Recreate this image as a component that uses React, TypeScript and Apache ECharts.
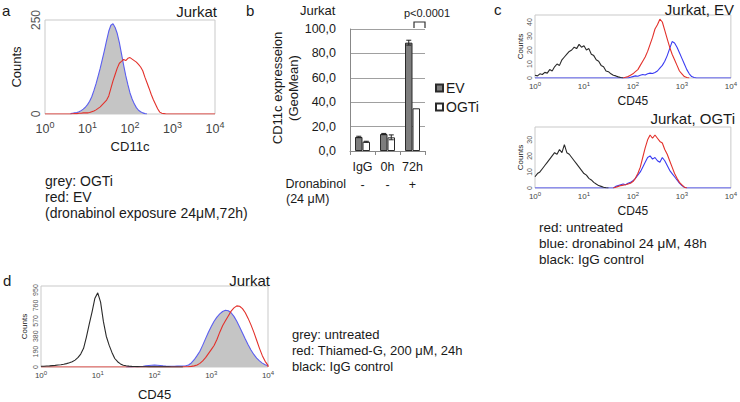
import React, { useEffect, useRef } from "react";
import * as echarts from "echarts";

const FONT = '"Liberation Sans", Arial, Helvetica, sans-serif';

// Histogram bin centres: 10^0 .. 10^4 in log10 steps of 0.05
const BINS = [
  1, 1.122, 1.259, 1.413, 1.585, 1.778, 1.995, 2.239, 2.512, 2.818, 3.162, 3.548, 3.981, 4.467, 5.012, 5.623, 6.31, 7.079, 7.943, 8.913,
  10, 11.22, 12.59, 14.13, 15.85, 17.78, 19.95, 22.39, 25.12, 28.18, 31.62, 35.48, 39.81, 44.67, 50.12, 56.23, 63.1, 70.79, 79.43, 89.13,
  100, 112.2, 125.9, 141.3, 158.5, 177.8, 199.5, 223.9, 251.2, 281.8, 316.2, 354.8, 398.1, 446.7, 501.2, 562.3, 631, 707.9, 794.3, 891.3,
  1000, 1122, 1259, 1413, 1585, 1778, 1995, 2239, 2512, 2818, 3162, 3548, 3981, 4467, 5012, 5623, 6310, 7079, 7943, 8913,
  10000,
];

// ---- Panel a (CD11c, counts) ----
const A_OGTI_START = 12; // 10^0.6
const A_OGTI = [1, 2, 3, 4, 6, 9, 13, 18, 25, 34, 46, 62, 80, 101, 122, 146, 170, 196, 220, 236, 240, 230, 214, 190, 160, 130, 102, 78, 56, 40, 27, 17, 10, 6, 3, 1, 0];
const A_EV_START = 12;
const A_EV = [0, 0.5, 1, 1, 2, 2, 3, 3, 3, 4, 6, 8, 11, 15, 19, 25, 31, 37, 48, 68, 88, 105, 122, 135, 140, 145, 142, 148, 150, 146, 142, 138, 132, 125, 115, 98, 83, 68, 52, 38, 26, 14, 5, 2, 1, 0];

// ---- Panel b (CD11c GeoMean) ----
const B_CATS = ["IgG", "0h", "72h"];
const B_DRONABINOL = ["-", "-", "+"];
const B_EV = [11.5, 13.9, 88.8];
const B_EV_ERR = [0.6, 0.5, 2];
const B_OGTI = [7.6, 11.2, 35];
const B_OGTI_ERR = [0.4, 2, 0];

// ---- Panel c top (Jurkat, EV) ----
const C1_BLACK_START = 0;
const C1_BLACK = [2, 1.5, 3, 2.5, 4, 3.5, 6, 5, 8, 10, 9, 13, 15, 17, 19, 20, 22, 21, 24, 22, 23, 20, 21, 17, 16, 13, 12, 9, 8, 5, 4.5, 3, 2, 1.5, 0.8, 0.3, 0];
const C1_RED_START = 36;
const C1_RED = [0, 0.5, 1, 2, 3, 4.5, 6, 9, 12, 15, 19, 24, 29, 35, 38, 42, 40, 34, 28, 22, 17, 13, 9, 5, 3, 1, 0.3, 0];
const C1_BLUE_START = 38;
const C1_BLUE = [0, 0.5, 1, 1.5, 1.2, 2, 2.5, 2.2, 3, 3.5, 3.2, 4, 5, 7, 9, 12, 16, 21, 26, 25, 22, 18, 14, 10, 6, 3, 1, 0.3, 0];

// ---- Panel c bottom (Jurkat, OGTi) ----
const C2_BLACK_START = 0;
const C2_BLACK = [7, 9, 10, 12, 14, 16, 18, 20, 22, 21, 24, 22, 27, 22, 21, 19, 17, 15, 13, 11, 9, 8, 6, 5, 3.5, 2.5, 1.5, 1, 0.5, 0.2, 0];
const C2_RED_START = 32;
const C2_RED = [0, 0.5, 1, 1.5, 1.8, 2, 2.5, 3, 4, 6, 9, 13, 19, 25, 30, 33, 31, 33, 31, 29, 28, 24, 21, 17, 13, 9, 6, 3.5, 2, 0.5, 0];
const C2_BLUE_START = 32;
const C2_BLUE = [0, 1, 1.5, 2, 2.5, 2, 3, 3.5, 4.5, 6, 8, 10, 13, 16, 19, 20, 18, 19, 17, 16, 19, 17, 14, 11, 9, 7, 5, 3, 1.5, 0.5, 0];

// ---- Panel d (CD45, Thiamed-G) ----
const D_BLACK_START = 0;
const D_BLACK = [10, 10, 12, 14, 17, 20, 24, 28, 34, 42, 52, 65, 85, 115, 160, 230, 370, 530, 680, 850, 915, 800, 560, 380, 270, 180, 105, 65, 38, 22, 15, 11, 8, 6, 5, 4, 3, 3, 2, 2, 2, 2, 1, 1, 1, 1, 0.5, 0.5, 0, 0, 0];
const D_GREY_START = 30;
const D_GREY = [0, 1, 2, 3, 5, 7, 10, 14, 18, 22, 24, 22, 18, 14, 11, 10, 10, 10, 11, 12, 12, 16, 25, 50, 90, 140, 195, 270, 350, 430, 500, 565, 615, 655, 685, 700, 695, 670, 625, 565, 495, 420, 345, 275, 210, 155, 110, 75, 48, 28, 15];
const D_RED_START = 50;
const D_RED = [2, 3, 5, 8, 14, 25, 45, 75, 115, 165, 215, 265, 340, 430, 510, 570, 630, 690, 730, 755, 750, 720, 670, 600, 520, 430, 330, 230, 140, 70, 20];

const hist = (start: number, ys: number[]) => ys.map((y, i) => [BINS[start + i], y]);
const withBase = (pts: number[][]) => [[BINS[0], 0], ...pts, [BINS[BINS.length - 1], 0]];

const RED = "#e3312b";
const BLUE = "#5a5ef0";
const BLUE_C = "#3b3cf2";
const BLACK = "#2a2a2a";
const GREY_FILL = "#c5c5c5";
const FRAME = "#c9c9c9";
const TXT = "#1a1a1a";

function logXAxis(gridIndex: number, fs: number, sup: number, name: string, nameFs: number, nameGap: number, margin: number) {
  return {
    type: "log",
    logBase: 10,
    gridIndex,
    min: 1,
    max: 10000,
    axisLine: { show: false },
    axisTick: { show: false },
    splitLine: { show: false },
    minorTick: { show: false },
    axisLabel: {
      margin,
      color: "#444",
      fontFamily: FONT,
      fontSize: fs,
      formatter: (v: number) => "10{s|" + Math.round(Math.log10(v)) + "}",
      rich: { s: { fontSize: sup, fontFamily: FONT, color: "#444", padding: [0, 0, Math.round(fs * 0.6), 0] } },
    },
    name,
    nameLocation: "middle",
    nameGap,
    nameTextStyle: { fontSize: nameFs, fontFamily: FONT, color: TXT },
  };
}

function countYAxis(gridIndex: number, max: number, interval: number, fs: number, nameFs: number, nameGap: number, margin: number) {
  return {
    type: "value",
    gridIndex,
    min: 0,
    max,
    interval,
    axisLine: { show: false },
    axisTick: { show: false },
    splitLine: { show: false },
    axisLabel: { rotate: 90, fontSize: fs, fontFamily: FONT, color: "#555", margin, showMaxLabel: max % interval === 0 },
    name: "Counts",
    nameLocation: "middle",
    nameGap,
    nameTextStyle: { fontSize: nameFs, fontFamily: FONT, color: TXT },
  };
}

function line(xi: number, yi: number, data: number[][], color: string, z = 3, extra: any = {}) {
  return {
    type: "line",
    xAxisIndex: xi,
    yAxisIndex: yi,
    data,
    showSymbol: false,
    symbol: "none",
    silent: true,
    z,
    lineStyle: { color, width: 1.1 },
    itemStyle: { color },
    ...extra,
  };
}

function errorSeries(vals: number[], errs: number[], offset: number) {
  return {
    type: "custom",
    xAxisIndex: 1,
    yAxisIndex: 1,
    z: 6,
    silent: true,
    encode: { x: 0, y: 1 },
    data: vals.map((v, i) => [i, v, errs[i]]),
    renderItem: (_p: any, api: any) => {
      const i = api.value(0);
      const v = api.value(1);
      const e = api.value(2);
      if (!e) return null;
      const c = api.coord([i, v]);
      const hi = api.coord([i, v + e]);
      const lo = api.coord([i, v - e]);
      const x = c[0] + offset;
      const w = 2.5;
      const st = { stroke: "#222", lineWidth: 1 };
      return {
        type: "group",
        children: [
          { type: "line", shape: { x1: x, y1: hi[1], x2: x, y2: lo[1] }, style: st },
          { type: "line", shape: { x1: x - w, y1: hi[1], x2: x + w, y2: hi[1] }, style: st },
          { type: "line", shape: { x1: x - w, y1: lo[1], x2: x + w, y2: lo[1] }, style: st },
        ],
      };
    },
  };
}

function txt(text: string, x: number, y: number, size: number, align = "left", extra: any = {}) {
  return {
    type: "text",
    x,
    y,
    silent: true,
    style: { text, fill: TXT, font: `${size}px ${FONT}`, align, verticalAlign: "middle" },
    ...extra,
  };
}

export default function App() {
  const ref = useRef<HTMLDivElement>(null);
  useEffect(() => {
    if (!ref.current) return;
    const chart = echarts.init(ref.current, undefined, { renderer: "svg" });
    const gridBase = { show: true, borderColor: FRAME, borderWidth: 1, backgroundColor: "transparent", containLabel: false };
    chart.setOption({
      animation: false,
      backgroundColor: "#ffffff",
      textStyle: { fontFamily: FONT },
      grid: [
        { ...gridBase, left: 45, top: 20, width: 170, height: 94 },
        { left: 350, top: 29, width: 75, height: 122, show: false },
        { ...gridBase, left: 535, top: 15, width: 197, height: 63 },
        { ...gridBase, left: 535, top: 127, width: 197, height: 61 },
        { ...gridBase, left: 41, top: 286, width: 227, height: 85 },
      ],
      xAxis: [
        logXAxis(0, 12.5, 9, "CD11c", 13, 26, 6),
        {
          type: "category",
          gridIndex: 1,
          data: B_CATS,
          axisLine: { lineStyle: { color: "#888" } },
          axisTick: { show: true, length: 4, lineStyle: { color: "#888" } },
          axisLabel: { interval: 0, fontSize: 12.5, fontFamily: FONT, color: TXT, margin: 9 },
        },
        {
          type: "category",
          gridIndex: 1,
          position: "bottom",
          offset: 19,
          data: B_DRONABINOL,
          axisLine: { show: false },
          axisTick: { show: false },
          axisLabel: { interval: 0, fontSize: 12.5, fontFamily: FONT, color: TXT, margin: 8 },
        },
        logXAxis(2, 8, 6, "CD45", 12, 17, 3),
        logXAxis(3, 8, 6, "CD45", 12, 17, 3),
        logXAxis(4, 8, 6, "CD45", 13, 21, 3),
      ],
      yAxis: [
        countYAxis(0, 250, 250, 12, 13, 22, 3),
        {
          type: "value",
          gridIndex: 1,
          min: 0,
          max: 100,
          interval: 20,
          axisLine: { show: true, lineStyle: { color: "#888" } },
          axisTick: { show: false },
          splitLine: { show: true, lineStyle: { color: "#a0a0a0" } },
          axisLabel: {
            fontSize: 12.5,
            fontFamily: FONT,
            color: TXT,
            margin: 14,
            formatter: (v: number) => v.toFixed(1).replace(".", ","),
          },
        },
        countYAxis(2, 45, 10, 7, 8, 11, 2),
        countYAxis(3, 38, 10, 7, 8, 11, 2),
        countYAxis(4, 1000, 190, 7, 8, 13, 2),
      ],
      legend: {
        data: ["EV", "OGTi"],
        orient: "vertical",
        left: 435,
        top: 81,
        padding: 0,
        itemWidth: 7,
        itemHeight: 7,
        itemGap: 5,
        icon: "rect",
        selectedMode: false,
        textStyle: { fontSize: 14, fontFamily: FONT, color: TXT, padding: [0, 0, 0, -2] },
      },
      series: [
        // Panel a
        line(0, 0, hist(A_OGTI_START, A_OGTI), BLUE, 2, { areaStyle: { color: GREY_FILL, opacity: 1 } }),
        line(0, 0, withBase(hist(A_EV_START, A_EV)), RED, 3),
        // Panel b
        {
          name: "EV",
          type: "bar",
          xAxisIndex: 1,
          yAxisIndex: 1,
          data: B_EV,
          barWidth: 7.5,
          barGap: "0%",
          itemStyle: { color: "#7d7d7d", borderColor: "#2a2a2a", borderWidth: 1 },
        },
        {
          name: "OGTi",
          type: "bar",
          xAxisIndex: 1,
          yAxisIndex: 1,
          data: B_OGTI,
          barWidth: 7.5,
          barGap: "0%",
          itemStyle: { color: "#ffffff", borderColor: "#2a2a2a", borderWidth: 1 },
        },
        errorSeries(B_EV, B_EV_ERR, -3.75),
        errorSeries(B_OGTI, B_OGTI_ERR, 3.75),
        // Panel c top
        line(3, 2, withBase(hist(C1_BLUE_START, C1_BLUE)), BLUE_C, 3),
        line(3, 2, hist(C1_BLACK_START, C1_BLACK), BLACK, 4),
        line(3, 2, hist(C1_RED_START, C1_RED), RED, 4),
        // Panel c bottom
        line(4, 3, withBase(hist(C2_BLUE_START, C2_BLUE)), BLUE_C, 3),
        line(4, 3, hist(C2_BLACK_START, C2_BLACK), BLACK, 4),
        line(4, 3, hist(C2_RED_START, C2_RED), RED, 3),
        // Panel d
        line(5, 4, hist(D_GREY_START, D_GREY), BLUE, 2, { areaStyle: { color: GREY_FILL, opacity: 1 } }),
        line(5, 4, hist(D_BLACK_START, D_BLACK), BLACK, 4),
        line(5, 4, withBase(hist(D_RED_START, D_RED)), RED, 3),
      ],
      graphic: [
        txt("a", 2, 10, 15),
        txt("Jurkat", 217, 11, 15, "right"),
        txt("grey: OGTi", 45, 181, 14),
        txt("red: EV", 45, 197, 14),
        txt("(dronabinol exposure 24\u03bcM,72h)", 45, 213, 14),
        txt("b", 246, 10, 15),
        txt("Jurkat", 300, 10, 13),
        txt("p<0.0001", 427, 13, 11, "center"),
        {
          type: "polyline",
          silent: true,
          shape: { points: [[414, 28], [414, 22], [425, 22], [425, 28]] },
          style: { stroke: "#333", lineWidth: 1.2, fill: "none" },
        },
        txt("CD11c expresseion", 277, 88, 13, "center", { rotation: Math.PI / 2 }),
        txt("(GeoMean)", 293, 88, 13, "center", { rotation: Math.PI / 2 }),
        txt("Dronabinol", 346, 184, 12.5, "right"),
        txt("(24 \u03bcM)", 286, 199, 12.5),
        txt("c", 494, 9, 15),
        txt("Jurkat, EV", 734, 9, 15, "right"),
        txt("Jurkat, OGTi", 735, 118, 15, "right"),
        txt("red: untreated", 539, 227, 13.5),
        txt("blue: dronabinol 24 \u03bcM, 48h", 539, 243, 13.5),
        txt("black: IgG control", 539, 259, 13.5),
        txt("d", 3, 280, 15),
        txt("Jurkat", 270, 280, 15, "right"),
        txt("grey: untreated", 292, 334, 13),
        txt("red: Thiamed-G, 200 \u03bcM, 24h", 292, 350, 13),
        txt("black: IgG control", 292, 366, 13),
      ],
    });
    return () => chart.dispose();
  }, []);
  return <div ref={ref} style={{ position: "absolute", left: 0, top: 0, width: 740, height: 402 }} />;
}
